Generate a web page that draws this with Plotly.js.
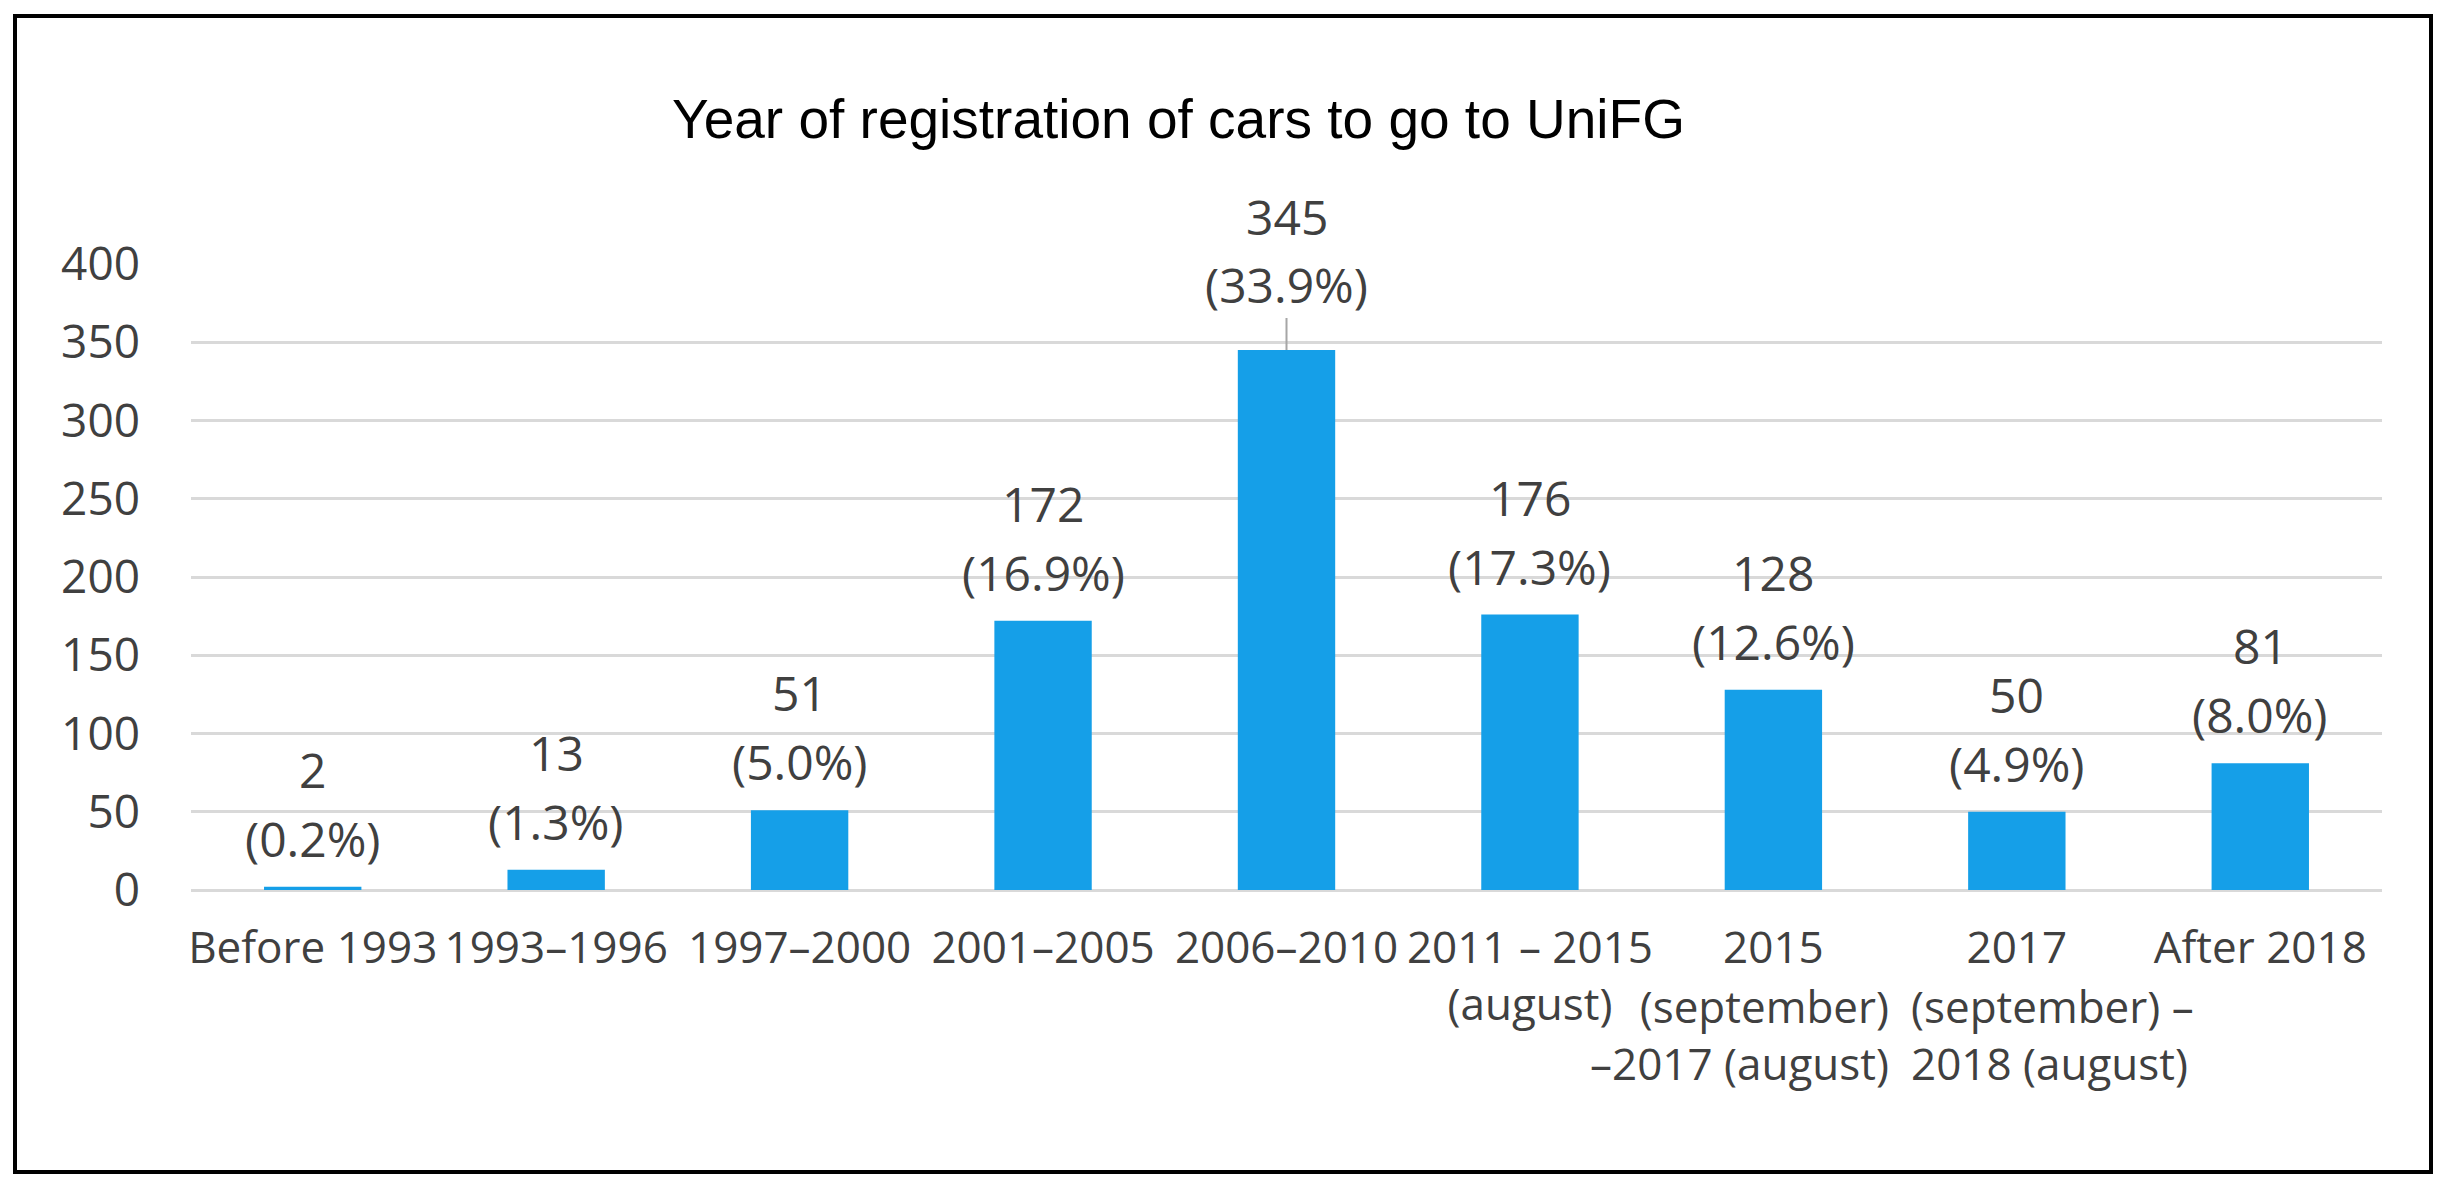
<!DOCTYPE html>
<html>
<head>
<meta charset="utf-8">
<script src="https://cdn.plot.ly/plotly-3.0.1.min.js"></script>
<style>
  html, body { margin: 0; padding: 0; background: #ffffff; overflow: hidden; }
  #chart { position: absolute; left: 0; top: 0; width: 2446px; height: 1194px; }
  #frame { position: absolute; left: 13px; top: 14px; width: 2420px; height: 1160px;
           box-sizing: border-box; border: 4px solid #000000; pointer-events: none; }
</style>
</head>
<body>
<div id="chart"></div>
<div id="frame"></div>
<script>
// ---- data ----
const categories = [
  "Before 1993",
  "1993–1996",
  "1997–2000",
  "2001–2005",
  "2006–2010",
  "2011 – 2015 (august)",
  "2015 (september) –2017 (august)",
  "2017 (september) – 2018 (august)",
  "After 2018"
];
// first lines of the category labels (drawn as axis tick labels)
const tickLabels = [
  "Before 1993",
  "1993–1996",
  "1997–2000",
  "2001–2005",
  "2006–2010",
  "2011 – 2015<br>(august)",
  "2015",
  "2017",
  "After 2018"
];
// wrapped continuation lines that overflow their category in the reference
const tickLabelTails = ["", "", "", "", "", "", "(september)<br>–2017 (august)", "(september) –<br>2018 (august)", ""];
const counts = [2, 13, 51, 172, 345, 176, 128, 50, 81];
const percents = ["0.2%", "1.3%", "5.0%", "16.9%", "33.9%", "17.3%", "12.6%", "4.9%", "8.0%"];
const yTicks = [0, 50, 100, 150, 200, 250, 300, 350, 400];
const titleText = "Year of registration of cars to go to UniFG";

// ---- styles ----
const BAR_COLOR = "#159FE8";
const TEXT_COLOR = "#404040";
const GRID_COLOR = "#D9D9D9";
const LABEL_FONT = "Open Sans, Lato, sans-serif";
const XTICK_SIZE = 44;

const trace = {
  type: "bar",
  x: categories,
  y: counts,
  marker: { color: BAR_COLOR, line: { width: 0 } },
  hoverinfo: "skip"
};

// data labels: count above "(percent)"; the tallest bar gets a leader line as in the reference
const maxVal = Math.max(...counts);
const labelFont = { family: LABEL_FONT, size: 48, color: TEXT_COLOR };
const annotations = [];
categories.forEach((c, i) => {
  const pctText = "(" + percents[i] + ")";
  const cntText = String(counts[i]);
  if (counts[i] === maxVal) {
    annotations.push({
      x: c, y: counts[i], xref: "x", yref: "y", text: pctText, font: labelFont,
      showarrow: true, arrowhead: 0, arrowwidth: 2, arrowcolor: "#A6A6A6",
      ax: 0, ay: -66, standoff: 0
    });
    annotations.push({
      x: c, y: counts[i], xref: "x", yref: "y", text: cntText, font: labelFont,
      showarrow: true, arrowhead: 0, arrowwidth: 0.1, arrowcolor: "rgba(0,0,0,0)",
      ax: 0, ay: -134
    });
  } else {
    annotations.push({
      x: c, y: counts[i], xref: "x", yref: "y", text: pctText, font: labelFont,
      showarrow: false, yanchor: "bottom", yshift: 14
    });
    annotations.push({
      x: c, y: counts[i], xref: "x", yref: "y", text: cntText, font: labelFont,
      showarrow: false, yanchor: "bottom", yshift: 14 + 69
    });
  }
});

// continuation lines of the long category labels (right-aligned / left-aligned as in the reference)
categories.forEach((c, i) => {
  if (!tickLabelTails[i]) return;
  const alignRight = i === 6;
  annotations.push({
    x: c, xref: "x", y: 0, yref: "paper",
    text: tickLabelTails[i],
    font: { family: LABEL_FONT, size: XTICK_SIZE, color: TEXT_COLOR },
    showarrow: false,
    xanchor: alignRight ? "right" : "left",
    align: alignRight ? "right" : "left",
    xshift: alignRight ? 118 : -108,
    yanchor: "top",
    yshift: -84
  });
});

const layout = {
  width: 2446,
  height: 1194,
  paper_bgcolor: "#ffffff",
  plot_bgcolor: "#ffffff",
  margin: { l: 191, r: 64, t: 264, b: 304, pad: 0 },
  showlegend: false,
  bargap: 0.6,
  title: {
    text: titleText,
    font: { family: "Liberation Sans, Arial, sans-serif", size: 55, color: "#000000" },
    xref: "container", yref: "container",
    x: 0.4818, xanchor: "center",
    y: 0.9003, yanchor: "middle"
  },
  xaxis: {
    type: "category",
    tickvals: categories,
    ticktext: tickLabels,
    tickfont: { family: LABEL_FONT, size: XTICK_SIZE, color: TEXT_COLOR },
    showgrid: false,
    showline: false,
    zeroline: false,
    ticks: "",
    ticklabelstandoff: 28,
    tickangle: 0,
    automargin: false
  },
  yaxis: {
    range: [0, 400],
    tickvals: yTicks,
    ticktext: yTicks.map(String),
    tickfont: { family: LABEL_FONT, size: 46, color: TEXT_COLOR },
    showgrid: true,
    gridcolor: GRID_COLOR,
    gridwidth: 3,
    zeroline: true,
    zerolinecolor: GRID_COLOR,
    zerolinewidth: 3,
    showline: false,
    ticks: "",
    ticklabelstandoff: 50,
    automargin: false
  },
  annotations: annotations
};

Plotly.newPlot("chart", [trace], layout, { staticPlot: true, displayModeBar: false });
</script>
</body>
</html>
